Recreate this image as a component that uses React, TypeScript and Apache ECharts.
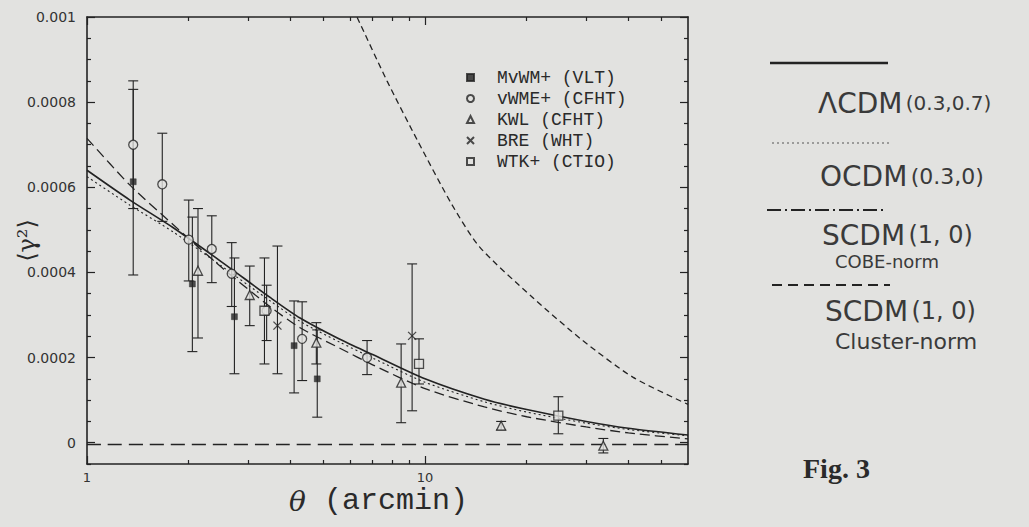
import React, { useEffect, useRef } from 'react';
import * as echarts from 'echarts';

const INK = '#232323';
const BG = '#e2e2e0';

// axis ranges
const X_MIN = 1;
const X_MAX = 60;
const Y_MIN = -0.00005;
const Y_MAX = 0.001;

// tick values / labels
const xMajorValues = [1, 10];
const xTickLabels = ['1', '10'];
const xMinorValues = [2, 3, 4, 5, 6, 7, 8, 9, 20, 30, 40, 50];
const yMajorValues = [0, 0.0002, 0.0004, 0.0006, 0.0008, 0.001];
const yTickLabels = ['0', '0.0002', '0.0004', '0.0006', '0.0008', '0.001'];
const yMinorValues = [
  -0.00005, 0.00005, 0.0001, 0.00015, 0.00025, 0.0003, 0.00035, 0.00045, 0.0005,
  0.00055, 0.00065, 0.0007, 0.00075, 0.00085, 0.0009, 0.00095,
];

// observations: [theta, value, low, high]
const mvwmVLT = [
  [1.37, 0.000613, 0.000394, 0.00083],
  [2.05, 0.000373, 0.000214, 0.00053],
  [2.73, 0.000296, 0.000162, 0.000434],
  [4.1, 0.000228, 0.000117, 0.000333],
  [4.8, 0.00015, 0.00006, 0.000265],
];
const vwmeCFHT = [
  [1.37, 0.0007, 0.00055, 0.00085],
  [1.67, 0.000607, 0.00052, 0.000727],
  [2.0, 0.000477, 0.00038, 0.00057],
  [2.34, 0.000455, 0.000376, 0.000533],
  [2.68, 0.000397, 0.00032, 0.00047],
  [3.4, 0.00031, 0.00024, 0.00037],
  [4.33, 0.000244, 0.000146, 0.000331],
  [6.74, 0.0002, 0.00016, 0.00024],
];
const kwlCFHT = [
  [2.13, 0.000404, 0.000246, 0.00055],
  [3.03, 0.000347, 0.000275, 0.000415],
  [4.77, 0.000235, 0.000185, 0.000282],
  [8.5, 0.000141, 0.000047, 0.000232],
  [16.8, 0.00004, 0.00003, 0.00005],
  [33.7, -0.000007, -0.000024, 0.00001],
];
const breWHT = [
  [3.66, 0.000275, 0.000162, 0.000462],
  [9.16, 0.000251, 0.000075, 0.00042],
];
const wtkCTIO = [
  [3.35, 0.00031, 0.000185, 0.000434],
  [9.6, 0.000185, 0.000138, 0.000244],
  [24.8, 0.0000634, 0.000021, 0.000108],
];

// model curves: [theta, value]
const lcdmCurve = [
  [1, 0.00064], [1.34, 0.00057], [1.8, 0.000505], [2.5, 0.000425], [3.5, 0.00034],
  [4.27, 0.000293], [5.6, 0.000243], [7, 0.000207], [10, 0.00015], [15, 0.000102],
  [20, 0.000078], [30, 0.00005], [40, 0.000034], [60, 0.000018],
];
const ocdmCurve = [
  [1, 0.000625], [1.34, 0.000558], [1.8, 0.000495], [2.5, 0.000415], [3.5, 0.000332],
  [4.27, 0.000285], [5.6, 0.000236], [7, 0.000199], [10, 0.000142], [15, 0.000096],
  [20, 0.000072], [30, 0.000046], [40, 0.000031], [60, 0.000016],
];
const scdmClusterCurve = [
  [1, 0.000715], [1.34, 0.000605], [1.8, 0.000512], [2.5, 0.000412], [3.5, 0.000318],
  [4.27, 0.00027], [5.6, 0.000222], [7, 0.000183], [10, 0.000127], [15, 0.000084],
  [20, 0.000061], [30, 0.000037], [40, 0.000023], [60, 0.000009],
];
const scdmCobeCurve = [
  [6.1, 0.00102], [6.29, 0.001], [7.72, 0.00085], [9.5, 0.00071], [12, 0.00056],
  [14.5, 0.00046], [20.9, 0.00034], [29.3, 0.00024], [41.2, 0.000154], [60, 0.00009],
];
const zeroLine = [[1, -0.000004], [60, -0.000004]];

const obsNames = ['MvWM+ (VLT)', 'vWME+ (CFHT)', 'KWL (CFHT)', 'BRE (WHT)', 'WTK+ (CTIO)'];

function errorSeries(rows: number[][]) {
  return {
    type: 'custom',
    xAxisIndex: 0,
    yAxisIndex: 0,
    silent: true,
    z: 2,
    data: rows.map((r) => [r[0], r[2], r[3]]),
    encode: { x: 0, y: [1, 2] },
    renderItem: (_params: any, api: any) => {
      const x = api.value(0);
      const top = api.coord([x, api.value(2)]);
      const bot = api.coord([x, api.value(1)]);
      const w = 5;
      const style = { stroke: INK, lineWidth: 1.1 };
      return {
        type: 'group',
        children: [
          { type: 'line', shape: { x1: top[0], y1: top[1], x2: bot[0], y2: bot[1] }, style },
          { type: 'line', shape: { x1: top[0] - w, y1: top[1], x2: top[0] + w, y2: top[1] }, style },
          { type: 'line', shape: { x1: bot[0] - w, y1: bot[1], x2: bot[0] + w, y2: bot[1] }, style },
        ],
      };
    },
  };
}

function pointSeries(name: string, rows: number[][], symbol: string, size: number, filled: boolean) {
  return {
    type: 'scatter',
    name,
    xAxisIndex: 0,
    yAxisIndex: 0,
    z: 4,
    symbol,
    symbolSize: size,
    data: rows.map((r) => [r[0], r[1]]),
    itemStyle: filled
      ? { color: INK, borderColor: INK, borderWidth: 0.5 }
      : { color: BG, borderColor: INK, borderWidth: 1.3 },
  };
}

function curveSeries(name: string, rows: number[][], type: any, width: number) {
  return {
    type: 'line',
    name,
    xAxisIndex: 0,
    yAxisIndex: 0,
    z: 3,
    smooth: 0.25,
    showSymbol: false,
    symbol: 'none',
    silent: true,
    data: rows,
    lineStyle: { color: INK, width, type },
  };
}

function labelFor(v: number, values: number[], labels: string[]) {
  for (let i = 0; i < values.length; i++) {
    if (Math.abs(values[i] - v) <= Math.abs(values[i]) * 1e-6 + 1e-12) return labels[i];
  }
  return '';
}

const HAND = 'DejaVu Sans';
const HAND_INK = '#3a3a3a';

export default function App() {
  const ref = useRef<HTMLDivElement>(null);

  useEffect(() => {
    document.body.style.margin = '0';
    document.body.style.background = BG;
    const chart = echarts.init(ref.current as HTMLDivElement, undefined, { renderer: 'svg' });

    const tickStyle = { color: INK, width: 1.2 };
    const xBase: any = {
      type: 'log', logBase: 10, min: X_MIN, max: X_MAX, gridIndex: 0,
      splitLine: { show: false }, minorTick: { show: false }, minorSplitLine: { show: false },
      axisLine: { show: false, onZero: false }, axisLabel: { show: false }, axisTick: { show: false },
    };
    const yBase: any = {
      type: 'value', min: Y_MIN, max: Y_MAX, gridIndex: 0,
      splitLine: { show: false },
      axisLine: { show: false, onZero: false }, axisLabel: { show: false }, axisTick: { show: false },
    };
    const axisLineOn = { show: true, onZero: false, lineStyle: { color: INK, width: 1.6 } };

    const option: any = {
      animation: false,
      backgroundColor: BG,
      textStyle: { fontFamily: 'DejaVu Sans' },
      grid: { left: 87, top: 17, width: 601, height: 447, containLabel: false, outerBoundsMode: 'none' },
      xAxis: [
        {
          ...xBase, position: 'bottom', axisLine: axisLineOn,
          axisTick: { show: true, inside: true, length: 8, customValues: xMajorValues, lineStyle: tickStyle },
          axisLabel: {
            show: true, customValues: xMajorValues, margin: 7,
            fontFamily: 'DejaVu Sans', fontSize: 13, color: '#333',
            formatter: (v: number) => labelFor(v, xMajorValues, xTickLabels),
          },
          name: '{t|θ} (arcmin)',
          nameLocation: 'middle',
          nameGap: 22,
          nameMoveOverlap: false,
          nameTextStyle: {
            fontFamily: 'Liberation Mono', fontSize: 30, color: '#2a2a2a',
            padding: [0, 18, 0, 0],
            rich: { t: { fontFamily: 'DejaVu Serif', fontStyle: 'italic', fontSize: 28, color: '#2a2a2a' } },
          },
        },
        {
          ...xBase, position: 'bottom',
          axisTick: { show: true, inside: true, length: 4, customValues: xMinorValues, lineStyle: tickStyle },
        },
        {
          ...xBase, position: 'top', axisLine: axisLineOn,
          axisTick: { show: true, inside: true, length: 8, customValues: xMajorValues, lineStyle: tickStyle },
        },
        {
          ...xBase, position: 'top',
          axisTick: { show: true, inside: true, length: 4, customValues: xMinorValues, lineStyle: tickStyle },
        },
      ],
      yAxis: [
        {
          ...yBase, position: 'left', axisLine: axisLineOn,
          axisTick: { show: true, inside: true, length: 8, customValues: yMajorValues, lineStyle: tickStyle },
          axisLabel: {
            show: true, customValues: yMajorValues, margin: 11,
            fontFamily: 'DejaVu Sans', fontSize: 14, color: '#333',
            formatter: (v: number) => labelFor(v, yMajorValues, yTickLabels),
          },
          name: '⟨γ²⟩',
          nameLocation: 'middle',
          nameRotate: 90,
          nameGap: 48,
          nameMoveOverlap: false,
          nameTextStyle: { fontFamily: 'DejaVu Serif', fontSize: 24, color: '#2a2a2a' },
        },
        {
          ...yBase, position: 'left',
          axisTick: { show: true, inside: true, length: 4, customValues: yMinorValues, lineStyle: tickStyle },
        },
        {
          ...yBase, position: 'right', axisLine: axisLineOn,
          axisTick: { show: true, inside: true, length: 8, customValues: yMajorValues, lineStyle: tickStyle },
        },
        {
          ...yBase, position: 'right',
          axisTick: { show: true, inside: true, length: 4, customValues: yMinorValues, lineStyle: tickStyle },
        },
      ],
      legend: {
        data: obsNames,
        orient: 'vertical',
        left: 461,
        top: 62,
        itemWidth: 7,
        itemHeight: 7,
        itemGap: 0,
        selectedMode: false,
        textStyle: {
          fontFamily: 'Liberation Mono', fontSize: 18, color: '#2a2a2a',
          lineHeight: 21, padding: [0, 0, 0, 18],
        },
      },
      series: [
        curveSeries('ΛCDM (0.3,0.7)', lcdmCurve, 'solid', 1.6),
        curveSeries('OCDM (0.3,0)', ocdmCurve, [2, 3], 1.1),
        curveSeries('SCDM (1,0) Cluster-norm', scdmClusterCurve, [10, 5], 1.3),
        curveSeries('SCDM (1,0) COBE-norm', scdmCobeCurve, [6, 4], 1.3),
        curveSeries('zero', zeroLine, [14, 7], 1.5),
        errorSeries(mvwmVLT),
        errorSeries(vwmeCFHT),
        errorSeries(kwlCFHT),
        errorSeries(breWHT),
        errorSeries(wtkCTIO),
        pointSeries(obsNames[0], mvwmVLT, 'rect', 6, true),
        pointSeries(obsNames[1], vwmeCFHT, 'circle', 9, false),
        pointSeries(obsNames[2], kwlCFHT, 'triangle', 9, false),
        pointSeries(obsNames[3], breWHT, 'path://M0,0L10,10M10,0L0,10', 8, false),
        pointSeries(obsNames[4], wtkCTIO, 'rect', 9, false),
      ],
      graphic: [
        { type: 'line', shape: { x1: 770, y1: 63, x2: 888, y2: 63 }, style: { stroke: INK, lineWidth: 2.5 } },
        {
          type: 'text', x: 818, y: 103,
          style: {
            text: '{a|ΛCDM} {b|(0.3,0.7)}', verticalAlign: 'middle', fill: HAND_INK,
            rich: {
              a: { fontFamily: HAND, fontSize: 28, fill: HAND_INK },
              b: { fontFamily: HAND, fontSize: 20, fill: HAND_INK },
            },
          },
        },
        { type: 'line', shape: { x1: 772, y1: 143, x2: 890, y2: 143 }, style: { stroke: '#555', lineWidth: 1.2, lineDash: [2, 3] } },
        {
          type: 'text', x: 820, y: 176,
          style: {
            text: '{a|OCDM} {b|(0.3,0)}', verticalAlign: 'middle', fill: HAND_INK,
            rich: {
              a: { fontFamily: HAND, fontSize: 28, fill: HAND_INK },
              b: { fontFamily: HAND, fontSize: 22, fill: HAND_INK },
            },
          },
        },
        { type: 'line', shape: { x1: 767, y1: 210, x2: 887, y2: 210 }, style: { stroke: INK, lineWidth: 2, lineDash: [14, 4, 2, 4] } },
        {
          type: 'text', x: 822, y: 235,
          style: {
            text: '{a|SCDM} {b|(1, 0)}', verticalAlign: 'middle', fill: HAND_INK,
            rich: {
              a: { fontFamily: HAND, fontSize: 28, fill: HAND_INK },
              b: { fontFamily: HAND, fontSize: 24, fill: HAND_INK },
            },
          },
        },
        {
          type: 'text', x: 835, y: 261,
          style: { text: 'COBE-norm', verticalAlign: 'middle', fontFamily: HAND, fontSize: 18, fill: HAND_INK },
        },
        { type: 'line', shape: { x1: 772, y1: 285, x2: 890, y2: 285 }, style: { stroke: INK, lineWidth: 1.8, lineDash: [10, 6] } },
        {
          type: 'text', x: 825, y: 311,
          style: {
            text: '{a|SCDM} {b|(1, 0)}', verticalAlign: 'middle', fill: HAND_INK,
            rich: {
              a: { fontFamily: HAND, fontSize: 28, fill: HAND_INK },
              b: { fontFamily: HAND, fontSize: 24, fill: HAND_INK },
            },
          },
        },
        {
          type: 'text', x: 835, y: 341,
          style: { text: 'Cluster-norm', verticalAlign: 'middle', fontFamily: HAND, fontSize: 22, fill: HAND_INK },
        },
        {
          type: 'text', x: 803, y: 468,
          style: { text: 'Fig. 3', verticalAlign: 'middle', fontFamily: 'Liberation Serif', fontWeight: 'bold', fontSize: 28, fill: '#2a2a2a' },
        },
      ],
    };

    chart.setOption(option);
    return () => chart.dispose();
  }, []);

  return (
    <div
      ref={ref}
      style={{ position: 'fixed', left: 0, top: 0, width: 1029, height: 527, background: BG }}
    />
  );
}
